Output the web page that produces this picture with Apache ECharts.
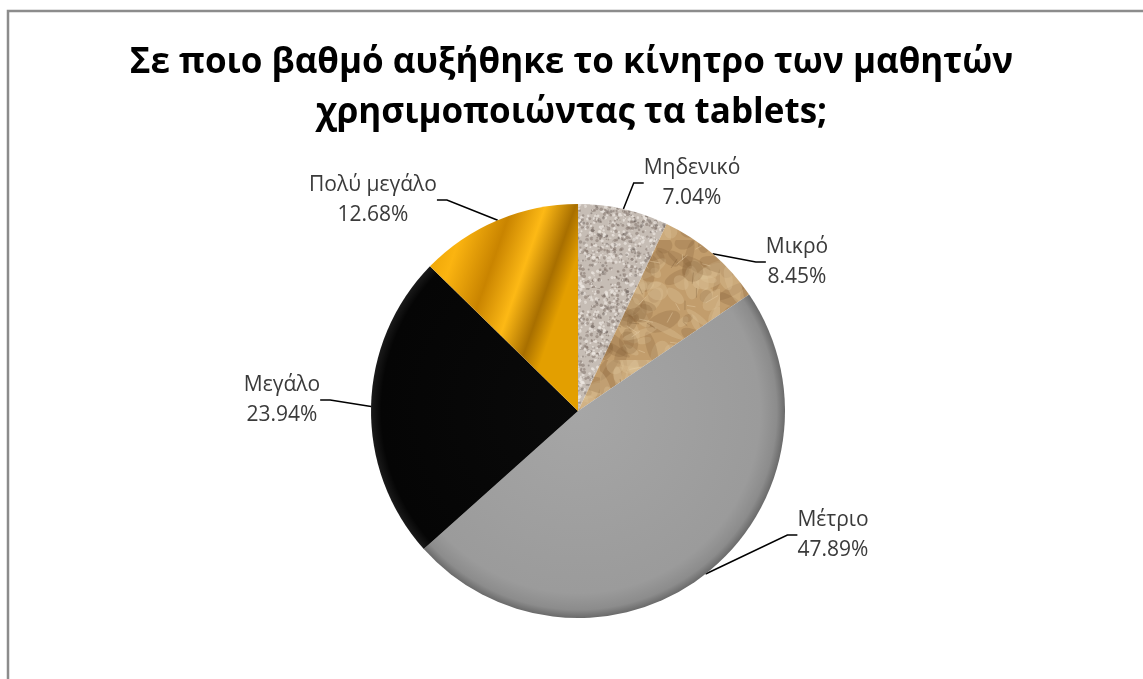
<!DOCTYPE html>
<html>
<head>
<meta charset="utf-8">
<script src="https://cdn.jsdelivr.net/npm/echarts@6/dist/echarts.min.js"></script>
<style>
  html, body { margin: 0; padding: 0; background: #ffffff; }
  #chart { width: 1143px; height: 679px; }
</style>
</head>
<body>
<div id="chart"></div>
<script>
// Answer categories and their share of responses (%)
const categories = ['Μηδενικό', 'Μικρό', 'Μέτριο', 'Μεγάλο', 'Πολύ μεγάλο'];
const shares = [7.04, 8.45, 47.89, 23.94, 12.68];
const titleLines = ['Σε ποιο βαθμό αυξήθηκε το κίνητρο των μαθητών', 'χρησιμοποιώντας τα tablets;'];

// Small deterministic generator for the surface textures
function makeRng(seed) {
  let s = seed >>> 0;
  return function () {
    s = (s * 1664525 + 1013904223) >>> 0;
    return s / 4294967296;
  };
}

// Speckled stone texture
function graniteTexture() {
  const c = document.createElement('canvas');
  c.width = c.height = 96;
  const g = c.getContext('2d');
  g.fillStyle = '#c6bdb5';
  g.fillRect(0, 0, 96, 96);
  const rnd = makeRng(7);
  for (let i = 0; i < 1000; i++) {
    const x = rnd() * 96, y = rnd() * 96, r = 0.5 + rnd() * 1.4;
    const t = rnd();
    g.fillStyle = t < 0.4 ? 'rgba(125,112,104,0.5)' : (t < 0.85 ? 'rgba(236,231,225,0.7)' : 'rgba(95,85,80,0.4)');
    g.beginPath(); g.arc(x, y, r, 0, Math.PI * 2); g.fill();
  }
  return c;
}

// Crumpled brown paper texture
function paperTexture() {
  const c = document.createElement('canvas');
  c.width = c.height = 120;
  const g = c.getContext('2d');
  g.fillStyle = '#c29d6c';
  g.fillRect(0, 0, 120, 120);
  const rnd = makeRng(19);
  for (let i = 0; i < 90; i++) {
    const x = rnd() * 120, y = rnd() * 120;
    const w = 5 + rnd() * 16, h = 3 + rnd() * 8, a = rnd() * Math.PI;
    const t = rnd();
    g.save();
    g.translate(x, y); g.rotate(a);
    g.fillStyle = t < 0.5 ? 'rgba(222,194,152,0.35)' : 'rgba(130,95,55,0.25)';
    g.beginPath(); g.ellipse(0, 0, w, h, 0, 0, Math.PI * 2); g.fill();
    g.restore();
  }
  for (let i = 0; i < 30; i++) {
    const x = rnd() * 120, y = rnd() * 120, l = 5 + rnd() * 12, a = rnd() * Math.PI;
    g.strokeStyle = rnd() < 0.5 ? 'rgba(110,78,45,0.3)' : 'rgba(235,212,175,0.4)';
    g.lineWidth = 1;
    g.beginPath(); g.moveTo(x, y); g.lineTo(x + Math.cos(a) * l, y + Math.sin(a) * l); g.stroke();
  }
  return c;
}

const chart = echarts.init(document.getElementById('chart'), null, { renderer: 'canvas' });

const cx = 578, cy = 411, R = 207;

const sliceStyles = [
  { color: { image: graniteTexture(), repeat: 'repeat' } },
  { color: { image: paperTexture(), repeat: 'repeat' } },
  { color: { type: 'radial', x: cx, y: cy, r: R, global: true,
      colorStops: [
        { offset: 0, color: '#a6a6a6' },
        { offset: 0.88, color: '#9b9b9b' },
        { offset: 0.96, color: '#8c8c8c' },
        { offset: 1, color: '#6a6a6a' }
      ] } },
  { color: { type: 'radial', x: cx, y: cy, r: R, global: true,
      colorStops: [
        { offset: 0, color: '#0a0a0a' },
        { offset: 0.95, color: '#050505' },
        { offset: 1, color: '#1a1a1a' }
      ] } },
  { color: { type: 'linear', x: 0, y: 0, x2: 1, y2: 0.25,
      colorStops: [
        { offset: 0, color: '#e39a00' },
        { offset: 0.25, color: '#fbb410' },
        { offset: 0.5, color: '#c98400' },
        { offset: 0.7, color: '#fdb915' },
        { offset: 0.88, color: '#a86f00' },
        { offset: 1, color: '#e39f00' }
      ] } }
];

// Label anchor offsets from the pie centre (label text centre)
const labelOffsets = [
  [114, -228], [219, -149], [255, 124], [-296, -11], [-205, -211]
];

chart.setOption({
  animation: false,
  title: {
    text: titleLines.join('\n'),
    left: 'center',
    top: 33,
    textStyle: {
      fontFamily: 'Open Sans',
      fontWeight: 'bold',
      fontSize: 35,
      lineHeight: 50,
      color: '#000000'
    }
  },
  graphic: [{
    type: 'rect',
    silent: true,
    shape: { x: 8, y: 11, width: 1300, height: 1000 },
    style: { fill: 'none', stroke: '#8c8c8c', lineWidth: 2.5 }
  }],
  series: [{
    type: 'pie',
    center: [cx, cy],
    radius: [0, R],
    startAngle: 90,
    clockwise: true,
    avoidLabelOverlap: false,
    data: categories.map((name, i) => ({
      name: name,
      value: shares[i],
      itemStyle: sliceStyles[i]
    })),
    label: {
      show: true,
      position: 'outside',
      formatter: p => p.name + '\n' + p.value.toFixed(2) + '%',
      fontFamily: 'Open Sans',
      fontSize: 21,
      lineHeight: 30,
      color: '#3a3a3a',
      align: 'center'
    },
    labelLine: {
      show: true,
      length: 18,
      length2: 10,
      lineStyle: { color: '#000000', width: 1.5 }
    },
    labelLayout: function (params) {
      const o = labelOffsets[params.dataIndex];
      return { x: cx + o[0], y: cy + o[1], align: 'center', verticalAlign: 'middle' };
    }
  }]
});
</script>
</body>
</html>
